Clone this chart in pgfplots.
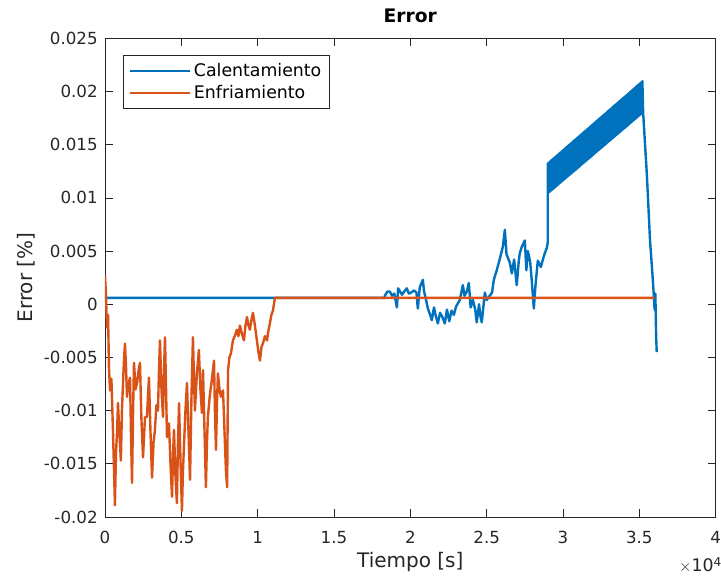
\documentclass[border=0pt]{standalone}
\usepackage{pgfplots}
\pgfplotsset{compat=1.18}
\usepackage{fontspec}
\setmainfont{DejaVu Sans}
\definecolor{mblue}{rgb}{0,0.447,0.741}
\definecolor{morange}{rgb}{0.85,0.325,0.098}
\definecolor{axgray}{gray}{0.15}

\begin{document}
\begin{tikzpicture}
\begin{axis}[scale only axis,width=458pt,height=359pt,
 xmin=0,xmax=40000,ymin=-0.02,ymax=0.025,
 xtick={0,5000,10000,15000,20000,25000,30000,35000,40000},
 xticklabels={0,0.5,1,1.5,2,2.5,3,3.5,4},
 ytick={-0.02,-0.015,-0.01,-0.005,0,0.005,0.01,0.015,0.02,0.025},
 yticklabels={-0.02,-0.015,-0.01,-0.005,0,0.005,0.01,0.015,0.02,0.025},
 scaled ticks=false,
 tick align=inside,tick style={axgray,line width=0.5pt},major tick length=6pt,
 axis line style={axgray,line width=0.6pt},
 tick label style={font=\fontsize{12.5}{14}\selectfont,text=axgray},
 xticklabel shift=7pt,
 yticklabel shift=2pt,
 label style={font=\fontsize{15}{17}\selectfont,text=axgray},
 /pgf/number format/assume math mode=true,
 title={\fontsize{14}{16}\selectfont\bfseries Error},
 title style={yshift=2pt},
 xlabel={Tiempo [s]},ylabel={Error [\%]},
 legend style={at={(0.03,0.965)},anchor=north west,draw=axgray,
  font=\fontsize{13}{15}\selectfont,inner xsep=4pt,inner ysep=4pt,row sep=1pt},
 legend cell align=left,
 legend image code/.code={\draw[#1,line width=1.8pt] (0pt,0pt) -- (45pt,0pt);},
 ]
\addplot[mblue,line width=1.8pt,line join=round] coordinates {
(0,0.0006) (18330,0.0006) (18330,0.0008) (18500,0.0012) (18660,0.0012) (18800,0.0008) (18950,0.0010) (19120,-0.0003) (19200,0.0015) (19450,0.0009) (19600,0.0012) (19770,0.0015) (19900,0.0010) (20050,0.0011) (20250,0.0013) (20400,0.0011) (20490,-0.0004) (20620,0.0016) (20820,0.0023) (20900,0.0012) (21000,0.0006) (21150,-0.0004) (21300,-0.0010) (21410,-0.0015) (21550,-0.0003) (21650,-0.0010) (21800,-0.0018) (21950,-0.0008) (22100,-0.0012) (22260,-0.0018) (22400,-0.0005) (22550,-0.0016) (22700,-0.0006) (22850,-0.0010) (23000,-0.0002) (23240,0.0004) (23440,0.0018) (23550,0.0008) (23700,0.0012) (23830,0.0020) (23950,-0.0003) (24100,0.0004) (24250,-0.0005) (24350,-0.0017) (24500,0.0000) (24600,-0.0012) (24680,-0.0017) (24880,0.0011) (25000,0.0004) (25200,0.0008) (25350,0.0011) (25470,0.0023) (25660,0.0032) (25850,0.0042) (26060,0.0054) (26190,0.0070) (26300,0.0047) (26520,0.0039) (26650,0.0029) (26800,0.0042) (26970,0.0018) (27100,0.0040) (27170,0.0048) (27300,0.0054) (27500,0.0060) (27600,0.0032) (27700,0.0050) (27850,0.0040) (27960,0.0021) (28090,-0.0004) (28200,0.0018) (28350,0.0041) (28550,0.0035) (28700,0.0043) (28810,0.0048) (28940,0.0053) (29000,0.0058)
(29000,0.01325) (29050,0.01046) (29100,0.01337) (29150,0.01058) (29200,0.01350) (29250,0.01071) (29300,0.01362) (29350,0.01083) (29400,0.01375) (29450,0.01095)
(29500,0.01387) (29550,0.01107) (29600,0.01400) (29650,0.01119) (29700,0.01412) (29750,0.01132) (29800,0.01425) (29850,0.01144) (29900,0.01437) (29950,0.01156)
(30000,0.01450) (30050,0.01168) (30100,0.01462) (30150,0.01180) (30200,0.01475) (30250,0.01193) (30300,0.01487) (30350,0.01205) (30400,0.01499) (30450,0.01217)
(30500,0.01512) (30550,0.01229) (30600,0.01524) (30650,0.01242) (30700,0.01537) (30750,0.01254) (30800,0.01549) (30850,0.01266) (30900,0.01562) (30950,0.01278)
(31000,0.01574) (31050,0.01290) (31100,0.01587) (31150,0.01303) (31200,0.01599) (31250,0.01315) (31300,0.01612) (31350,0.01327) (31400,0.01624) (31450,0.01339)
(31500,0.01637) (31550,0.01352) (31600,0.01649) (31650,0.01364) (31700,0.01661) (31750,0.01376) (31800,0.01674) (31850,0.01388) (31900,0.01686) (31950,0.01400)
(32000,0.01699) (32050,0.01413) (32100,0.01711) (32150,0.01425) (32200,0.01724) (32250,0.01437) (32300,0.01736) (32350,0.01449) (32400,0.01749) (32450,0.01461)
(32500,0.01761) (32550,0.01474) (32600,0.01774) (32650,0.01486) (32700,0.01786) (32750,0.01498) (32800,0.01798) (32850,0.01510) (32900,0.01811) (32950,0.01523)
(33000,0.01823) (33050,0.01535) (33100,0.01836) (33150,0.01547) (33200,0.01848) (33250,0.01559) (33300,0.01861) (33350,0.01571) (33400,0.01873) (33450,0.01584)
(33500,0.01886) (33550,0.01596) (33600,0.01898) (33650,0.01608) (33700,0.01911) (33750,0.01620) (33800,0.01923) (33850,0.01633) (33900,0.01936) (33950,0.01645)
(34000,0.01948) (34050,0.01657) (34100,0.01960) (34150,0.01669) (34200,0.01973) (34250,0.01681) (34300,0.01985) (34350,0.01694) (34400,0.01998) (34450,0.01706)
(34500,0.02010) (34550,0.01718) (34600,0.02023) (34650,0.01730) (34700,0.02035) (34750,0.01743) (34800,0.02048) (34850,0.01755) (34900,0.02060) (34950,0.01767)
(35000,0.02073) (35050,0.01779) (35100,0.02085) (35150,0.01791) (35200,0.02098)
(35250,0.0180) (35500,0.0120) (35700,0.0060) (35850,0.0030) (35950,0.0008) (36000,-0.0005) (36050,0.0010) (36100,-0.0030) (36140,-0.0045)
};
\addlegendentry{Calentamiento}
\addplot[morange,line width=1.8pt,line join=round] coordinates {
(0,0.0027) (60,0.0010) (130,-0.0022) (200,-0.0010) (260,-0.0060) (330,-0.0081) (420,-0.0070) (520,-0.0118) (580,-0.0150) (650,-0.0189) (720,-0.0140) (790,-0.0120) (850,-0.0093) (940,-0.0120) (1040,-0.0147) (1110,-0.0100) (1180,-0.0074) (1250,-0.0050) (1310,-0.0037) (1380,-0.0060) (1440,-0.0087) (1540,-0.0075) (1640,-0.0069) (1700,-0.0120) (1770,-0.0168) (1840,-0.0100) (1900,-0.0055) (2000,-0.0080) (2100,-0.0074) (2200,-0.0062) (2290,-0.0055) (2390,-0.0110) (2490,-0.0144) (2620,-0.0106) (2750,-0.0106) (2820,-0.0085) (2880,-0.0069) (2980,-0.0120) (3080,-0.0163) (3180,-0.0130) (3270,-0.0118) (3370,-0.0095) (3470,-0.0100) (3540,-0.0060) (3600,-0.0034) (3700,-0.0080) (3800,-0.0106) (3870,-0.0060) (3930,-0.0031) (4000,-0.0080) (4060,-0.0125) (4190,-0.0112) (4290,-0.0150) (4390,-0.0181) (4460,-0.0140) (4520,-0.0118) (4610,-0.0160) (4710,-0.0187) (4780,-0.0130) (4850,-0.0093) (4950,-0.0150) (5040,-0.0194) (5100,-0.0160) (5170,-0.0134) (5270,-0.0100) (5370,-0.0074) (5470,-0.0120) (5570,-0.0165) (5660,-0.0090) (5760,-0.0031) (5830,-0.0070) (5890,-0.0100) (6020,-0.0065) (6150,-0.0043) (6250,-0.0080) (6350,-0.0102) (6420,-0.0062) (6520,-0.0120) (6610,-0.0172) (6680,-0.0130) (6740,-0.0106) (6870,-0.0085) (7000,-0.0071) (7140,-0.0053) (7200,-0.0100) (7270,-0.0137) (7340,-0.0090) (7400,-0.0065) (7500,-0.0080) (7590,-0.0087) (7730,-0.0081) (7830,-0.0120) (7920,-0.0156) (8000,-0.0172) (8060,-0.0062) (8150,-0.0050) (8250,-0.0046) (8380,-0.0034) (8500,-0.0030) (8640,-0.0024) (8740,-0.0030) (8840,-0.0020) (8970,-0.0028) (9100,-0.0034) (9200,-0.0020) (9300,-0.0012) (9400,-0.0020) (9490,-0.0024) (9590,-0.0015) (9690,-0.0008) (9820,-0.0020) (9950,-0.0034) (10050,-0.0045) (10150,-0.0053) (10250,-0.0040) (10340,-0.0037) (10480,-0.0030) (10610,-0.0034) (10700,-0.0025) (10800,-0.0018) (10900,-0.0010) (11000,-0.0006) (11130,0.0006) (36000,0.0006)
};
\addlegendentry{Enfriamiento}
\end{axis}
\node[anchor=north east,font=\fontsize{13}{15}\selectfont,text=axgray,inner sep=0pt] at (463pt,-30pt) {$\times$10\textsuperscript{4}};
\pgfresetboundingbox
\useasboundingbox (-78.75pt,-45pt) rectangle (462pt,387.75pt);
\end{tikzpicture}
\end{document}
